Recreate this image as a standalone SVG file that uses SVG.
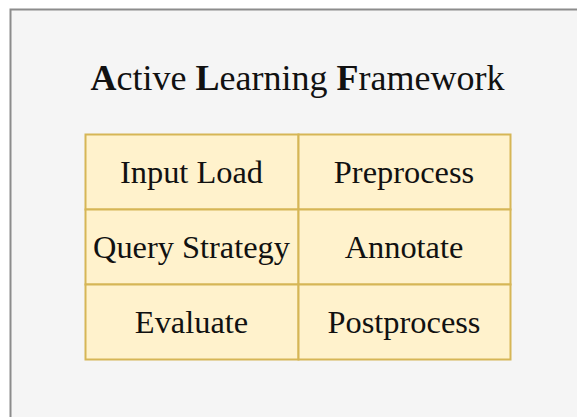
<svg xmlns="http://www.w3.org/2000/svg" width="577" height="417" viewBox="0 0 577 417">
<style>
.cell{fill:#fff2cc;stroke:#d6b656;stroke-width:2}
.t{font-family:"Liberation Serif","Times New Roman",serif;font-size:32.4px;fill:#111;text-anchor:middle}
.title{font-family:"Liberation Serif","Times New Roman",serif;font-size:36px;fill:#111;text-anchor:middle}
</style>
<rect width="577" height="417" fill="#ffffff"/>
<g id="frame">
<rect x="10.5" y="9.5" width="600" height="440" fill="#f5f5f5" stroke="#8c8c8c" stroke-width="2"/>
<text class="title" x="297.5" y="90"><tspan font-weight="bold">A</tspan>ctive <tspan font-weight="bold">L</tspan>earning <tspan font-weight="bold">F</tspan>ramework</text>
</g>
<g id="input-load"><rect class="cell" x="85.5" y="134.5" width="213" height="75"/><text class="t" x="191.5" y="183">Input Load</text></g>
<g id="preprocess"><rect class="cell" x="298.5" y="134.5" width="212" height="75"/><text class="t" x="404" y="183">Preprocess</text></g>
<g id="query-strategy"><rect class="cell" x="85.5" y="209.5" width="213" height="75"/><text class="t" x="191.5" y="258">Query Strategy</text></g>
<g id="annotate"><rect class="cell" x="298.5" y="209.5" width="212" height="75"/><text class="t" x="404" y="258">Annotate</text></g>
<g id="evaluate"><rect class="cell" x="85.5" y="284.5" width="213" height="75"/><text class="t" x="191.5" y="333">Evaluate</text></g>
<g id="postprocess"><rect class="cell" x="298.5" y="284.5" width="212" height="75"/><text class="t" x="404" y="333">Postprocess</text></g>
<g id="connectors"/>
</svg>
